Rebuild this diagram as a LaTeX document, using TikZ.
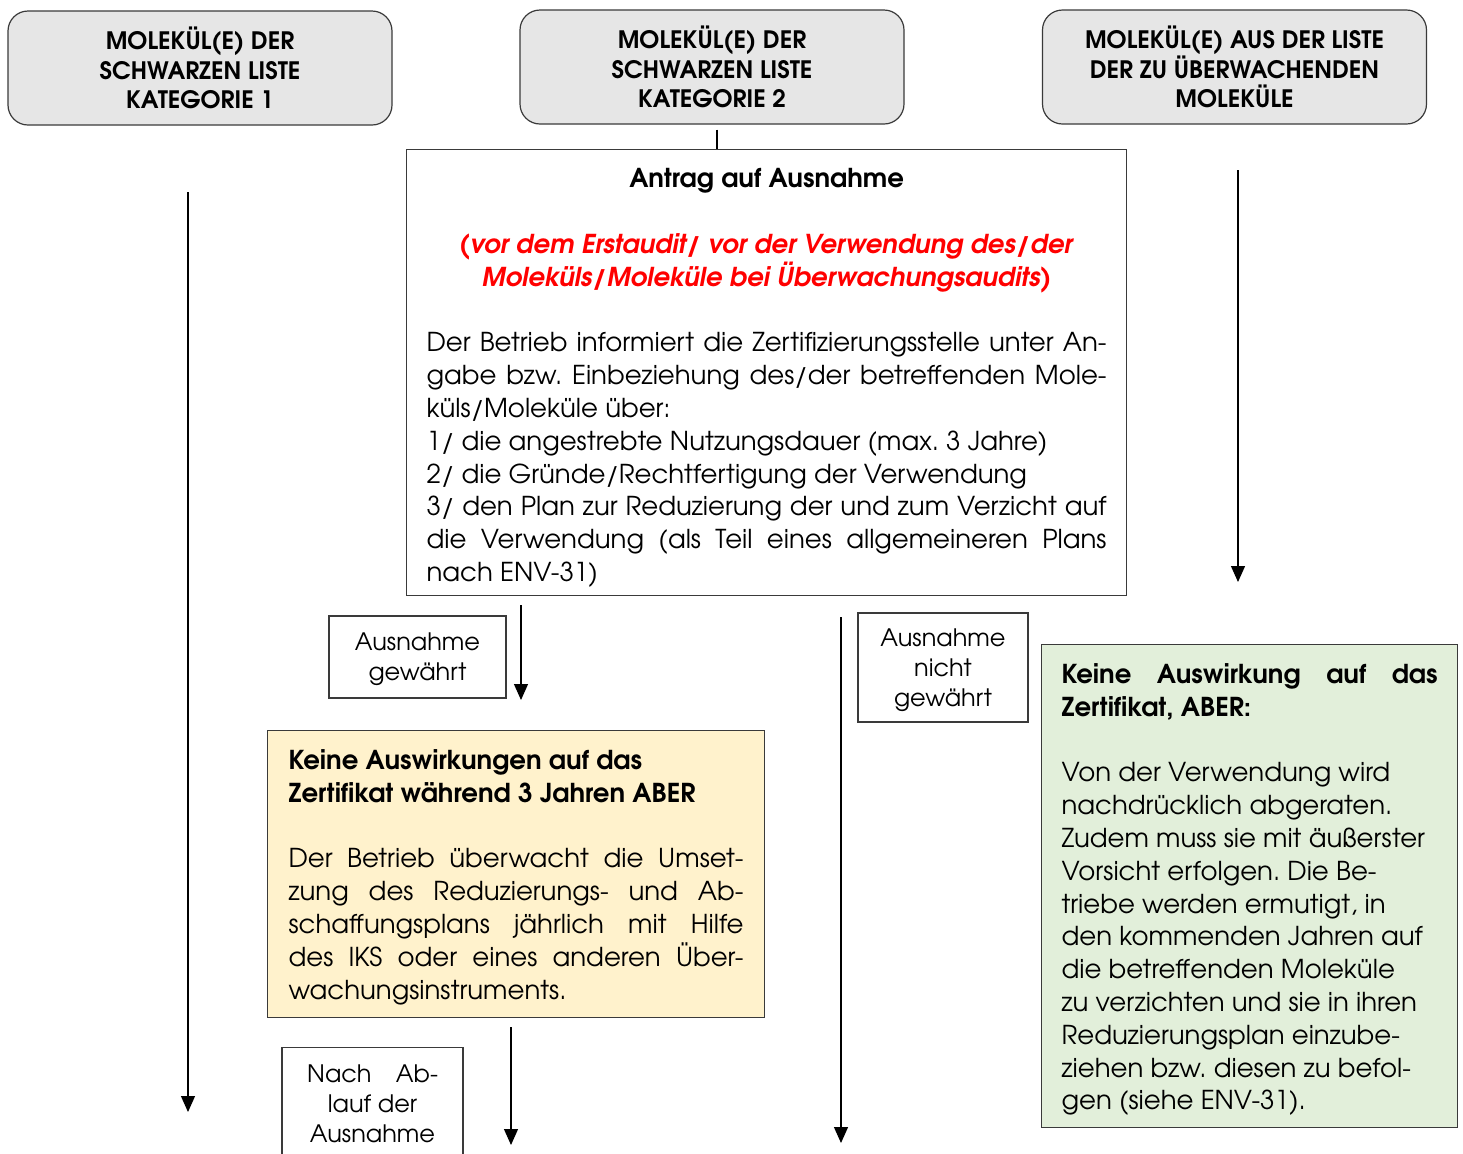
\documentclass[tikz,border=0pt]{standalone}
\usepackage{fontspec}
\setmainfont{TeX Gyre Adventor}
\usetikzlibrary{arrows.meta,positioning}
\definecolor{hdgrey}{HTML}{E6E6E6}
\definecolor{yel}{HTML}{FFF2CC}
\definecolor{grn}{HTML}{E2EFDA}
\definecolor{rim}{HTML}{3A3A3A}
\newcommand{\bodyfont}{\fontsize{13}{16.4}\selectfont\frenchspacing}
\newcommand{\jline}[2]{{\spaceskip=0pt\xspaceskip=0pt\makebox[#1][s]{#2}}}
\newcommand{\lline}[2]{\makebox[#1][l]{#2}}
\newcommand{\mline}[2]{\makebox[#1][c]{#2}}
\newcommand{\warnred}[1]{\textcolor{red}{\textbf{\textit{#1}}}}
\tikzset{
  head/.style={draw=rim,rounded corners=10pt,fill=hdgrey,align=center,inner sep=0pt,
    minimum width=192pt,minimum height=57pt,font=\fontsize{12}{14.6}\selectfont\bfseries},
  pane/.style={draw=rim,anchor=north west,inner xsep=10pt,inner ysep=9.5pt,
    align=justify,font=\bodyfont},
  tag/.style={draw=rim,align=center,inner sep=0pt,text depth=0pt,font=\fontsize{12}{15}\selectfont},
  ar/.style={-{Triangle[length=8pt,width=7pt]},line width=0.6pt},
}
\begin{document}
\begin{tikzpicture}[x=0.5pt,y=-0.5pt,line width=0.6pt]
\useasboundingbox (0,0) rectangle (1463,1153);

% the three lists
\node[head] (kat1) at (200,68) {MOLEKÜL(E) DER\\SCHWARZEN LISTE\\KATEGORIE 1};
\node[head] (kat2) at (712,67) {MOLEKÜL(E) DER\\SCHWARZEN LISTE\\KATEGORIE 2};
\node[head] (watch) at (1234.5,67) {MOLEKÜL(E) AUS DER LISTE\\DER ZU ÜBERWACHENDEN\\MOLEKÜLE};

% request for an exemption
\node[pane,text width=340pt,text depth=194.5pt] (antrag) at (406,149) {\mline{340pt}{\textbf{Antrag auf Ausnahme}}\\[16.4pt]
\mline{340pt}{\warnred{(vor dem Erstaudit/ vor der Verwendung des/der}}\\
\mline{340pt}{\warnred{Moleküls/Moleküle bei Überwachungsaudits)}}\\[16.4pt]
\jline{340pt}{Der Betrieb informiert die Zertifizierungsstelle unter An-}\\
\jline{340pt}{gabe bzw. Einbeziehung des/der betreffenden Mole-}\\
\lline{340pt}{küls/Moleküle über:}\\
\lline{340pt}{1/ die angestrebte Nutzungsdauer (max. 3 Jahre)}\\
\lline{340pt}{2/ die Gründe/Rechtfertigung der Verwendung}\\
\jline{340pt}{3/ den Plan zur Reduzierung der und zum Verzicht auf}\\
\jline{340pt}{die Verwendung (als Teil eines allgemeineren Plans}\\
\lline{340pt}{nach ENV-31)}};
\draw ([xshift=2.5pt,yshift=-2.5pt]kat2.south) -- ([xshift=2.5pt]kat2.south |- antrag.north);

% outcomes
\node[pane,fill=yel,text width=227.5pt,inner xsep=10.5pt,text depth=114.5pt] (keine3j) at (267,730) {\lline{227.5pt}{\textbf{Keine Auswirkungen auf das}}\\
\lline{227.5pt}{\textbf{Zertifikat während 3 Jahren ABER}}\\[16.4pt]
\jline{227.5pt}{Der Betrieb überwacht die Umset-}\\
\jline{227.5pt}{zung des Reduzierungs- und Ab-}\\
\jline{227.5pt}{schaffungsplans jährlich mit Hilfe}\\
\jline{227.5pt}{des IKS oder eines anderen Über-}\\
\lline{227.5pt}{wachungsinstruments.}};
\node[pane,fill=grn,text width=188pt,text depth=212.5pt] (keine) at (1041,644) {\jline{188pt}{\textbf{Keine Auswirkung auf das}}\\
\lline{188pt}{\textbf{Zertifikat, ABER:}}\\[16.4pt]
\lline{188pt}{Von der Verwendung wird}\\
\lline{188pt}{nachdrücklich abgeraten.}\\
\lline{188pt}{Zudem muss sie mit äußerster}\\
\lline{188pt}{Vorsicht erfolgen. Die Be-}\\
\lline{188pt}{triebe werden ermutigt, in}\\
\lline{188pt}{den kommenden Jahren auf}\\
\lline{188pt}{die betreffenden Moleküle}\\
\lline{188pt}{zu verzichten und sie in ihren}\\
\lline{188pt}{Reduzierungsplan einzube-}\\
\lline{188pt}{ziehen bzw. diesen zu befol-}\\
\lline{188pt}{gen (siehe ENV-31).}};

% labels
\node[tag,minimum width=88.5pt,minimum height=41pt] (gew) at (417.5,657) {Ausnahme\\gewährt};
\node[tag,minimum width=85pt,minimum height=54.5pt] (ngew) at (943,667.5) {Ausnahme\\nicht\\gewährt};
\node[tag,minimum width=90.5pt,minimum height=56pt,anchor=north] (ablauf) at (372.5,1047) {\jline{65.5pt}{Nach Ab-}\\lauf der\\Ausnahme};

% arrows
\coordinate (k1a) at (188,192);
\coordinate (k1b) at (188,1112);
\coordinate (wa) at (1238,170);
\coordinate (wb) at (1238,582);
\coordinate (ga) at (521,605);
\coordinate (gb) at (521,700);
\coordinate (na) at (841,617);
\coordinate (nb) at (841,1143);
\coordinate (ya) at (511,1027);
\coordinate (yb) at (511,1145);
\draw[ar] (k1a) -- (k1b);
\draw[ar] (wa) -- (wb);
\draw[ar] (ga) -- (gb);
\draw[ar] (na) -- (nb);
\draw[ar] (ya) -- (yb);
\end{tikzpicture}
\end{document}
